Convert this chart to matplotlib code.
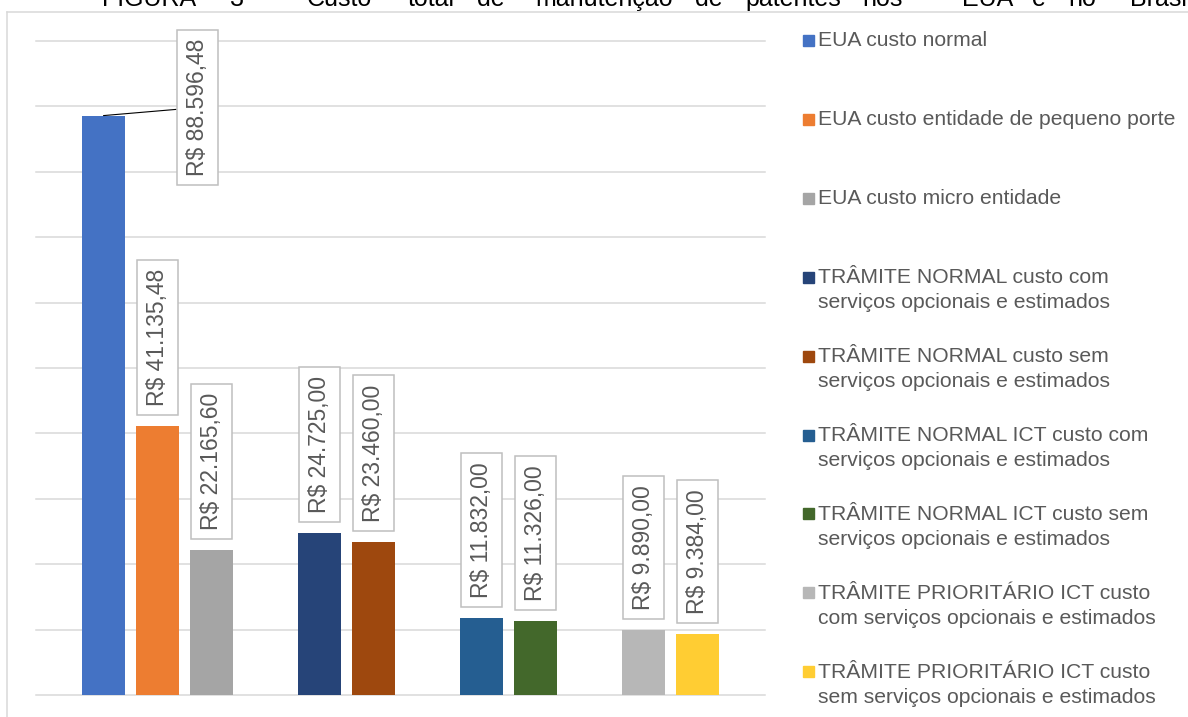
import matplotlib
matplotlib.use("Agg")
import matplotlib.pyplot as plt
from matplotlib.lines import Line2D
from matplotlib.patches import Rectangle

plt.rcParams['font.family'] = ['Liberation Sans', 'DejaVu Sans']

# ---------------- data ----------------
series = ["EUA custo normal",
          "EUA custo entidade de pequeno porte",
          "EUA custo micro entidade",
          "TRÂMITE NORMAL custo com\nserviços opcionais e estimados",
          "TRÂMITE NORMAL custo sem\nserviços opcionais e estimados",
          "TRÂMITE NORMAL ICT custo com\nserviços opcionais e estimados",
          "TRÂMITE NORMAL ICT custo sem\nserviços opcionais e estimados",
          "TRÂMITE PRIORITÁRIO ICT custo\ncom serviços opcionais e estimados",
          "TRÂMITE PRIORITÁRIO ICT custo\nsem serviços opcionais e estimados"]
values = [88596.48, 41135.48, 22165.60, 24725.00, 23460.00,
          11832.00, 11326.00, 9890.00, 9384.00]
colors = ["#4472C4", "#ED7D31", "#A5A5A5", "#264478", "#9E480E",
          "#255E91", "#43682B", "#B7B7B7", "#FFCD33"]
group_sizes = [3, 2, 2, 2]

title_words = ["FIGURA", "3", "–", "Custo", "total", "de", "manutenção", "de",
               "patentes", "nos", "EUA", "e", "no", "Brasil"]
title_x = [102, 230, 264, 307, 408, 477, 535, 695, 745, 862, 962, 1032, 1068, 1130]

W, H = 1188, 717
def fx(px): return px / W
def fy(py): return 1 - py / H

def brl(v):
    s = f"{v:,.2f}".replace(",", "X").replace(".", ",").replace("X", ".")
    return "R$ " + s

# bar slots: one empty slot between groups
xpos = []
slot = 0
for n in group_sizes:
    for k in range(n):
        xpos.append(slot)
        slot += 1
    slot += 1

fig = plt.figure(figsize=(W / 100, H / 100), dpi=100)
ax = fig.add_axes([fx(36), fy(695), fx(765) - fx(36), fy(41) - fy(695)])

ax.set_xlim(-1.25, 12.25)
ax.set_ylim(0, 100000)
for t in range(0, 100001, 10000):
    ax.axhline(t, color="#D9D9D9", lw=1.1, zorder=0, clip_on=False)
for s in ax.spines.values():
    s.set_visible(False)
ax.set_xticks([])
ax.set_yticks([])

ax.bar(xpos, values, width=0.8, color=colors, zorder=2)

box = dict(boxstyle="square,pad=0.4", fc="white", ec="#BFBFBF", lw=1.1)
for i, (x, v) in enumerate(zip(xpos, values)):
    if i == 0:
        ax.annotate(brl(v), xy=(x, v), xytext=(94, 8), textcoords="offset pixels",
                    rotation=90, ha="center", va="center", fontsize=16.5,
                    color="#595959", bbox=box, zorder=4,
                    arrowprops=dict(arrowstyle="-", color="black", lw=0.8,
                                    shrinkA=0, shrinkB=0))
    else:
        ax.annotate(brl(v), xy=(x, v), xytext=(0, 20), textcoords="offset pixels",
                    rotation=90, ha="center", va="bottom", fontsize=16.5,
                    color="#595959", bbox=box, zorder=4)

# legend drawn by hand
leg_y0, leg_step, line_gap = 41, 78.9, 25
for i, (lab, c) in enumerate(zip(series, colors)):
    yc = leg_y0 + i * leg_step
    fig.add_artist(Rectangle((fx(803), fy(yc + 5)), fx(11), 11 / H,
                             color=c, transform=fig.transFigure))
    for k, line in enumerate(lab.split("\n")):
        fig.text(fx(818), fy(yc + k * line_gap), line, ha="left", va="center",
                 fontsize=15.2, color="#595959")

# chart frame (top and left visible)
fig.add_artist(Line2D([fx(7), 1], [fy(12), fy(12)], color="#D9D9D9", lw=1.1,
                      transform=fig.transFigure))
fig.add_artist(Line2D([fx(7), fx(7)], [fy(12), 0], color="#D9D9D9", lw=1.1,
                      transform=fig.transFigure))

# title, mostly cut off at the top of the image
for w, x in zip(title_words, title_x):
    fig.text(fx(x), fy(6), w, ha="left", va="baseline", fontsize=18, color="black")

fig.savefig("out.png", dpi=100)
